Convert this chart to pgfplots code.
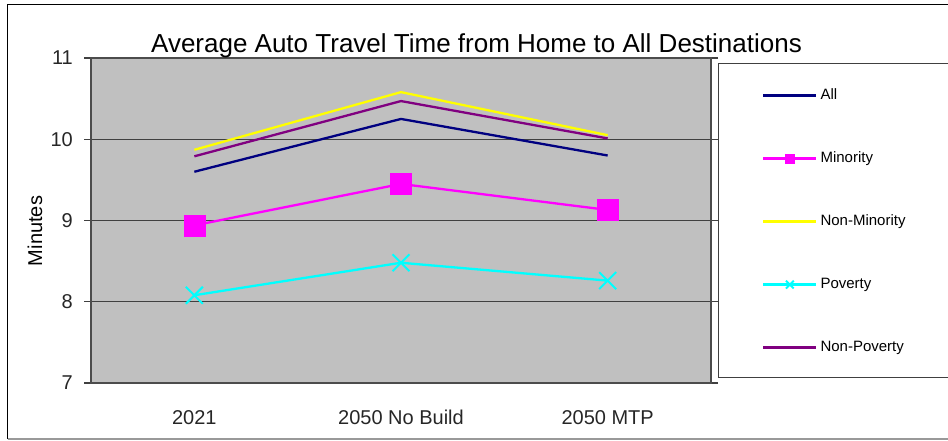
\documentclass[border=0pt]{standalone}
\usepackage{fontspec}
\setmainfont{Liberation Sans}
\usepackage{pgfplots}
\pgfplotsset{compat=1.18}
\definecolor{allc}{HTML}{000080}
\definecolor{minc}{HTML}{FF00FF}
\definecolor{nminc}{HTML}{FFFF00}
\definecolor{povc}{HTML}{00FFFF}
\definecolor{npovc}{HTML}{800080}
\definecolor{plotbg}{HTML}{C0C0C0}
\begin{document}
\begin{tikzpicture}[x=1pt,y=1pt]
% chart frame
\draw[black, line width=1.3pt] (7.5,1) -- (7.5,435.5) -- (960,435.5);
\draw[black!40, line width=1.3pt] (7.5,1) -- (960,1);
% legend box
\draw[black!75, line width=1pt, fill=white] (718,63) rectangle (960,376);
\begin{axis}[
    at={(91pt,57pt)}, anchor=south west,
    width=620pt, height=325pt, scale only axis,
    xmin=-0.5, xmax=2.5, ymin=7, ymax=11,
    ytick={7,8,9,10,11},
    xtick={0,1,2},
    xticklabels={2021, 2050 No Build, 2050 MTP},
    x tick style={draw=none},
    extra x ticks={-0.5,0.5,1.5,2.5},
    extra x tick labels={},
    extra x tick style={major tick length=7pt, tick style={draw=black!75, line width=1.2pt}},
    tick align=outside,
    major tick length=7pt,
    y tick style={draw=black!75, line width=1.2pt},
    ymajorgrids,
    grid style={black!75, line width=1.3pt},
    axis line style={black!70, line width=1.3pt},
    axis background/.style={fill=plotbg},
    /pgf/number format/assume math mode=true,
    tick label style={font=\fontsize{20}{24}\selectfont, text=black!85},
    yticklabel style={anchor=east, inner sep=0pt, xshift=-11pt},
    xticklabel style={anchor=north, inner sep=0pt, yshift=-20pt},
    ylabel={Minutes},
    ylabel style={at={(axis description cs:-0.0903,0.4677)}, anchor=center, font=\fontsize{20}{24}\selectfont},
    legend style={draw=none, fill=none, at={(axis description cs:1.08226,0.9065)}, anchor=north west,
        inner sep=0pt, row sep=49pt, column sep=3pt,
        nodes={inner sep=0pt, text height=11pt, text depth=3pt},
        font=\fontsize{15}{18}\selectfont},
    legend cell align=left,
    legend image code/.code={\draw[mark repeat=2, mark phase=2, #1] plot coordinates {(0pt,0pt) (26.5pt,0pt) (53pt,0pt)};},
]
\addplot[allc, line width=2.3pt, mark=none] coordinates {(0,9.60) (1,10.25) (2,9.80)};
\addlegendentry{All}
\addplot[minc, line width=2.3pt, mark=square*, mark size=10.5pt, mark options={solid, fill=minc, line width=0.5pt}, legend image post style={mark size=4.5pt}] coordinates {(0,8.94) (1,9.45) (2,9.13)};
\addlegendentry{Minority}
\addplot[nminc, line width=2.3pt, mark=none] coordinates {(0,9.87) (1,10.58) (2,10.05)};
\addlegendentry{Non-Minority}
\addplot[povc, line width=2.3pt, mark=x, mark size=12pt, mark options={line width=2pt}, legend image post style={mark size=5.5pt}] coordinates {(0,8.08) (1,8.48) (2,8.26)};
\addlegendentry{Poverty}
\addplot[npovc, line width=2.3pt, mark=none] coordinates {(0,9.79) (1,10.47) (2,10.01)};
\addlegendentry{Non-Poverty}
\end{axis}
\node[font=\fontsize{26}{30}\selectfont, inner sep=0pt] at (476.5,394) {Average Auto Travel Time from Home to All Destinations};
\pgfresetboundingbox
\useasboundingbox (0,0) rectangle (948,440);
\end{tikzpicture}
\end{document}
